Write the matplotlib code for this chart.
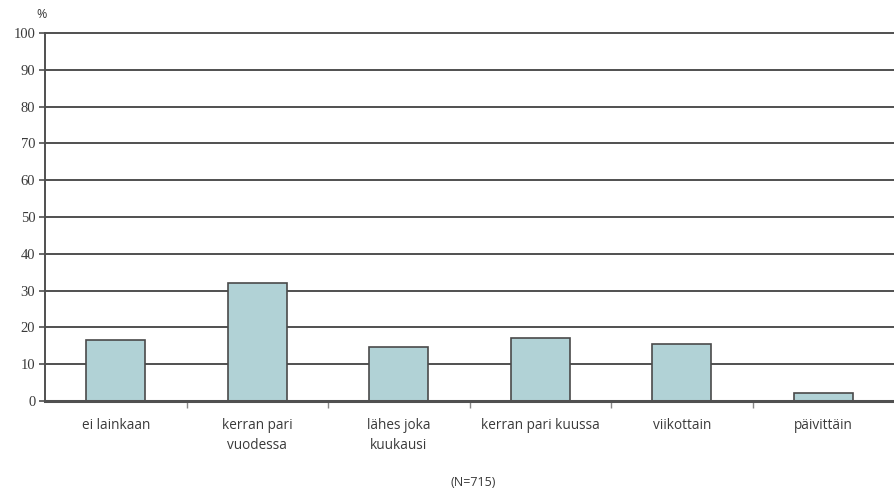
import matplotlib
matplotlib.use("Agg")
import matplotlib.pyplot as plt
import numpy as np

categories = ["ei lainkaan", "kerran pari\nvuodessa", "lähes joka\nkuukausi",
              "kerran pari kuussa", "viikottain", "päivittäin"]
values = [16.6, 32.0, 14.7, 17.0, 15.5, 2.3]
y_ticks = [0, 10, 20, 30, 40, 50, 60, 70, 80, 90, 100]

W, H = 894, 492
fig = plt.figure(figsize=(W / 100, H / 100), dpi=100)
ax = fig.add_axes([45 / W, 1 - 401 / H, 1 - 45 / W, (401 - 33) / H])

bar_color = "#b1d2d6"
edge = "#4a4a4a"
grid = "#505050"
text_color = "#3a3a3a"

x = np.arange(len(categories))
ax.set_xlim(-0.5, len(categories) - 0.5)
ax.set_ylim(0, 100)

for yv in y_ticks[1:]:
    ax.axhline(yv, color=grid, lw=1.4, zorder=1, clip_on=False)

ax.bar(x, values, width=0.42, color=bar_color, edgecolor=edge, linewidth=1.2, zorder=2)

for s in ["top", "right", "bottom"]:
    ax.spines[s].set_visible(False)
ax.spines["left"].set_color(grid)
ax.spines["left"].set_linewidth(1.4)
ax.axhline(0, color=grid, lw=2.2, zorder=3, clip_on=False)

ax.set_yticks(y_ticks)
ax.set_yticklabels([str(v) for v in y_ticks], fontsize=10.5, color=text_color,
                   family="Liberation Serif")
ax.tick_params(axis="y", length=4, width=1.2, color=grid, pad=3)

# category labels, with small tick marks at category boundaries
ax.set_xticks(np.arange(0.5, len(categories) - 0.5, 1.0), minor=False)
ax.set_xticklabels([])
ax.tick_params(axis="x", length=5, width=1.0, color="#888888", direction="out")
for xi, lab in zip(x, categories):
    ax.text(xi, -4.6, lab, ha="center", va="top", fontsize=9.8, color=text_color,
            family="Open Sans", linespacing=1.45)

fig.text(42 / W, 1 - 14 / H, "%", ha="center", va="center", fontsize=9,
         color=text_color, family="Open Sans")
fig.text(473 / W, 1 - 482 / H, "(N=715)", ha="center", va="center", fontsize=9,
         color=text_color, family="Open Sans")

fig.savefig("out.png", dpi=100)
